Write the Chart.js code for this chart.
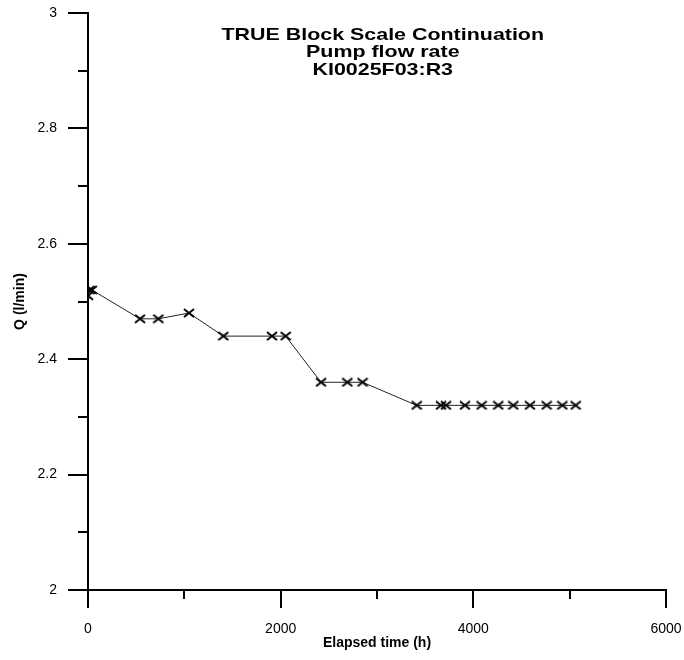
<!DOCTYPE html>
<html>
<head>
<meta charset="utf-8">
<script src="https://cdn.jsdelivr.net/npm/chart.js@4/dist/chart.umd.min.js"></script>
<style>
  html, body { margin: 0; padding: 0; background: #fff; }
  #wrap { width: 684px; height: 660px; }
</style>
</head>
<body>
<div id="wrap"><canvas id="c" width="684" height="660"></canvas></div>
<script>
// Pump flow rate, KI0025F03:R3
const elapsedHours = [0, 15, 40, 540, 730, 1048, 1405, 1910, 2052, 2419, 2692, 2850,
                      3412, 3664, 3716, 3913, 4086, 4259, 4415, 4588, 4761, 4924, 5062];
const flowRate     = [2.51, 2.52, 2.52, 2.47, 2.47, 2.48, 2.44, 2.44, 2.44, 2.36, 2.36, 2.36,
                      2.32, 2.32, 2.32, 2.32, 2.32, 2.32, 2.32, 2.32, 2.32, 2.32, 2.32];

const xTicks = [0, 1000, 2000, 3000, 4000, 5000, 6000];
const xLabelled = [0, 2000, 4000, 6000];
const yTicks = [2, 2.1, 2.2, 2.3, 2.4, 2.5, 2.6, 2.7, 2.8, 2.9, 3];
const yLabelled = [2, 2.2, 2.4, 2.6, 2.8, 3];

const titleLines = ['TRUE Block Scale Continuation', 'Pump flow rate', 'KI0025F03:R3'];

const FONT = '"Liberation Sans", Arial, sans-serif';
const near = (a, b) => Math.abs(a - b) < 1e-6;

// Marker: a slightly wide "x".
function makeCross() {
  const w = 12, h = 10;
  const cv = document.createElement('canvas');
  cv.width = w; cv.height = h;
  const g = cv.getContext('2d');
  g.strokeStyle = '#000';
  g.lineWidth = 2;
  g.beginPath();
  g.moveTo(1, 1); g.lineTo(w - 1, h - 1);
  g.moveTo(w - 1, 1); g.lineTo(1, h - 1);
  g.stroke();
  return cv;
}

// Tick marks outside the plot: long for labelled values, short otherwise.
const tickMarks = {
  id: 'tickMarks',
  afterDraw(chart) {
    const ctx = chart.ctx;
    const xs = chart.scales.x, ys = chart.scales.y;
    const area = chart.chartArea;
    ctx.save();
    ctx.strokeStyle = '#000';
    ctx.lineWidth = 2;
    xTicks.forEach(v => {
      const px = Math.round(xs.getPixelForValue(v));
      const len = xLabelled.some(l => near(l, v)) ? 18 : 9;
      ctx.beginPath();
      ctx.moveTo(px, area.bottom);
      ctx.lineTo(px, area.bottom + len);
      ctx.stroke();
    });
    yTicks.forEach(v => {
      const py = Math.round(ys.getPixelForValue(v));
      const len = yLabelled.some(l => near(l, v)) ? 20 : 10;
      ctx.beginPath();
      ctx.moveTo(area.left, py);
      ctx.lineTo(area.left - len, py);
      ctx.stroke();
    });
    ctx.restore();
  }
};

// Three-line heading sitting inside the plot area (set in a wide bold face).
const innerTitle = {
  id: 'innerTitle',
  afterDraw(chart) {
    const ctx = chart.ctx;
    const area = chart.chartArea;
    const cx = area.left + (area.right - area.left) * 0.510;
    const sx = 1.26;
    ctx.save();
    ctx.fillStyle = '#000';
    ctx.font = 'bold 17px ' + FONT;
    ctx.textAlign = 'center';
    ctx.textBaseline = 'middle';
    ctx.translate(cx, 0);
    ctx.scale(sx, 1);
    titleLines.forEach((t, i) => ctx.fillText(t, 0, area.top + 22 + i * 17.5));
    ctx.restore();
  }
};

new Chart(document.getElementById('c'), {
  type: 'scatter',
  data: {
    datasets: [{
      data: elapsedHours.map((h, i) => ({ x: h, y: flowRate[i] })),
      showLine: true,
      borderColor: '#222',
      borderWidth: 1,
      pointStyle: makeCross(),
      pointRadius: 6,
      tension: 0
    }]
  },
  options: {
    responsive: false,
    animation: false,
    layout: { padding: { left: 0, top: 13, right: 18, bottom: 0 } },
    plugins: { legend: { display: false }, tooltip: { enabled: false } },
    scales: {
      x: {
        type: 'linear',
        min: 0, max: 6000,
        afterBuildTicks(scale) { scale.ticks = xTicks.map(v => ({ value: v })); },
        afterFit(scale) {
          scale.height = 70;
          scale.paddingLeft = 0; scale.paddingRight = 0;
        },
        grid: { display: false, drawTicks: false },
        border: { display: true, color: '#000', width: 2 },
        ticks: {
          padding: 31,
          color: '#000',
          font: { family: FONT, size: 14 },
          maxRotation: 0,
          autoSkip: false,
          callback: v => xLabelled.some(l => near(l, v)) ? String(v) : ''
        },
        title: {
          display: true,
          text: 'Elapsed time (h)',
          color: '#000',
          font: { family: FONT, size: 14, weight: 'bold' },
          padding: { top: 0, bottom: 8 }
        }
      },
      y: {
        type: 'linear',
        min: 2, max: 3,
        afterBuildTicks(scale) { scale.ticks = yTicks.map(v => ({ value: v })); },
        afterFit(scale) {
          scale.width = 88;
          scale.paddingTop = 0; scale.paddingBottom = 0;
        },
        grid: { display: false, drawTicks: false },
        border: { display: true, color: '#000', width: 2 },
        ticks: {
          padding: 31,
          color: '#000',
          font: { family: FONT, size: 14 },
          autoSkip: false,
          callback: v => yLabelled.some(l => near(l, v)) ? String(Math.round(v * 10) / 10) : ''
        },
        title: {
          display: true,
          text: 'Q (l/min)',
          color: '#000',
          font: { family: FONT, size: 14, weight: 'bold' },
          padding: { top: 12, bottom: 0 }
        }
      }
    }
  },
  plugins: [tickMarks, innerTitle]
});
</script>
</body>
</html>
